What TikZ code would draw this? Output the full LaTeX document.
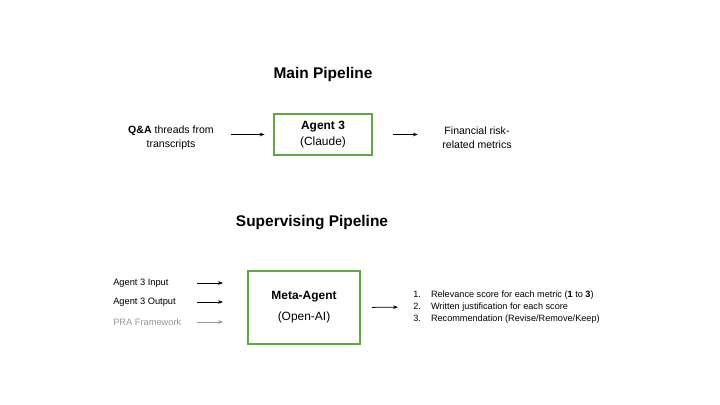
\documentclass[tikz,border=0pt]{standalone}
\usepackage{fontspec}
\setmainfont{Liberation Sans}
\usetikzlibrary{arrows.meta}
\definecolor{boxgreen}{RGB}{98,168,62}
\definecolor{lightgray}{RGB}{150,150,150}

\tikzset{
    agentbox/.style = {draw=boxgreen, line width=1.4pt, align=center, font=\fontsize{8.5}{11}\selectfont},
    arr/.style = {-{Stealth[length=3.5pt,width=2.6pt]}, line width=0.55pt},
    side/.style = {align=center, font=\fontsize{7.5}{10}\selectfont},
    inp/.style = {anchor=west, inner sep=0pt, font=\fontsize{6.6}{8}\selectfont},
    title/.style = {font=\fontsize{11}{14}\selectfont\bfseries}
}

\begin{document}
\begin{tikzpicture}[x=0.025cm, y=-0.025cm]
        % Frame
        \useasboundingbox (0,0) rectangle (720,405);

        % Main pipeline
        \node[title] (maintitle) at (323,75) {Main Pipeline};
        \node[side] (qa) at (171,138) {\textbf{Q\&A} threads from\\transcripts};
        \node[agentbox, minimum width=98*0.025cm, minimum height=41*0.025cm] (agent) at (323,134.5) {\textbf{Agent 3}\\(Claude)};
        \node[side] (metrics) at (477,138) {Financial risk-\\related metrics};
        \draw[arr, shorten <=9pt, shorten >=6pt] (qa.east |- agent) -- (agent);
        \draw[arr, shorten <=14pt, shorten >=14pt] (agent) -- (metrics.west |- agent);

        % Supervising pipeline
        \node[title] (suptitle) at (312,223) {Supervising Pipeline};
        \node[agentbox, minimum width=112*0.025cm, minimum height=73*0.025cm] (meta) at (304,307.5) {\raisebox{-4pt}{\textbf{Meta-Agent}}\\[4pt]\raisebox{-4pt}{(Open-AI)}};

        % Inputs
        \node[inp] (in1) at (113,283) {Agent 3 Input};
        \node[inp] (in2) at (113,302) {Agent 3 Output};
        \node[inp, text=lightgray] (in3) at (113,322) {PRA Framework};
        \coordinate (a1) at (197,283);
        \coordinate (a2) at (197,302);
        \coordinate (a3) at (197,322);
        \draw[arr] (a1) -- ([xshift=-24*0.025cm]meta.west |- a1);
        \draw[arr] (a2) -- ([xshift=-24*0.025cm]meta.west |- a2);
        \draw[arr, draw=lightgray, fill=lightgray] (a3) -- ([xshift=-24*0.025cm]meta.west |- a3);

        % Outputs
        \node[inp, font=\fontsize{6.5}{8.6}\selectfont, align=left] (out) at (413,307) {%
            \makebox[12.6pt][l]{1.}Relevance score for each metric (\textbf{1} to \textbf{3})\\
            \makebox[12.6pt][l]{2.}Written justification for each score\\
            \makebox[12.6pt][l]{3.}Recommendation (Revise/Remove/Keep)};
        \draw[arr, shorten <=11*0.025cm, shorten >=15*0.025cm] (meta.east) -- (out.west);
\end{tikzpicture}
\end{document}
